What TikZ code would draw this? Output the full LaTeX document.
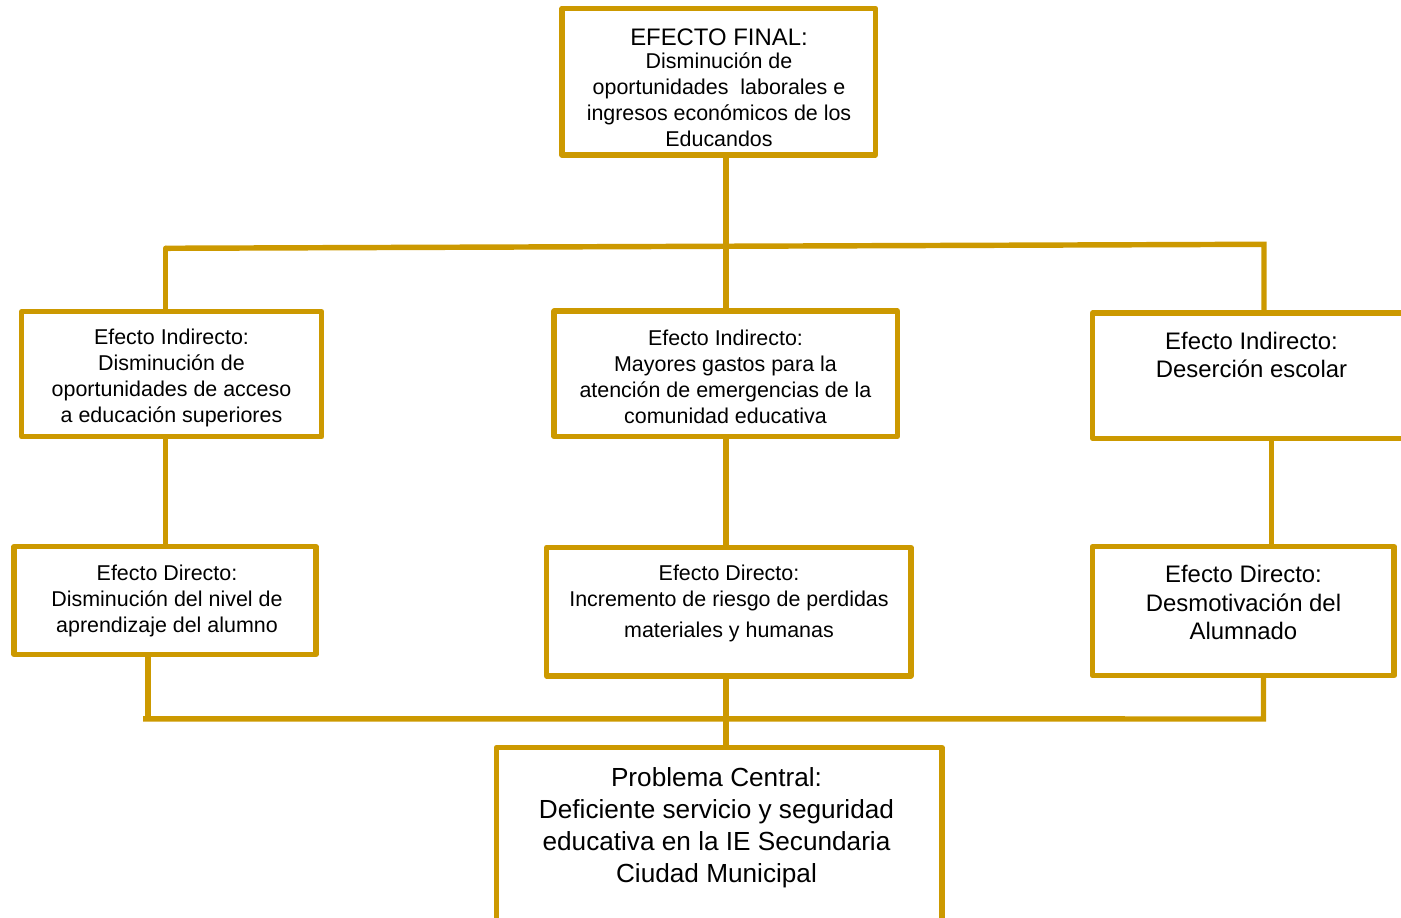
\documentclass[tikz,border=0pt]{standalone}
\usepackage{fontspec}
\setmainfont{Liberation Sans}
\usetikzlibrary{fit}
\definecolor{oro}{RGB}{204,153,0}
\tikzset{
	caja/.style={draw=oro, line width=3.1pt, line join=round, inner sep=0pt},
	linea/.style={draw=oro, line width=3.1pt},
	texto/.style={anchor=north, align=center, inner sep=0pt, font=\fontsize{12.2}{14.8}\selectfont},
	textog/.style={texto, font=\fontsize{13.6}{15.9}\selectfont},
}

\begin{document}
\begin{tikzpicture}[x=0.02cm, y=-0.02cm]
	\useasboundingbox (0,0) rectangle (1401,918);
	
	% cajas
	\node[caja, fit={(562,8.5) (875.5,155)}] (final) {};
	\node[caja, fit={(21.7,311.7) (321.7,436.7)}] (ind1) {};
	\node[caja, fit={(554.2,311.2) (897.5,436.3)}] (ind2) {};
	\node[caja, fit={(1092.7,313) (1450.7,438.3)}] (ind3) {};
	\node[caja, fit={(14.2,546.7) (315.8,654.5)}] (dir1) {};
	\node[caja, fit={(546.7,547.5) (910.8,675.8)}] (dir2) {};
	\node[caja, fit={(1092.5,546.7) (1394.2,675.5)}] (dir3) {};
	\node[caja, fit={(496.5,747.5) (941.8,930)}] (central) {};
	
	% textos
	\node[texto] (tfinal) at (719,28.3) {{\fontsize{13.6}{14.8}\selectfont EFECTO FINAL:}\\[-1.5pt]
		Disminución de\\ oportunidades\ \ laborales e\\ ingresos económicos de los\\ Educandos};
	\node[texto] (tind1) at (171.5,328.3) {Efecto Indirecto:\\ Disminución de\\ oportunidades de acceso\\ a educación superiores};
	\node[texto] (tind2) at (725.5,329.3) {Efecto Indirecto:\\ Mayores gastos para la\\ atención de emergencias de la\\ comunidad educativa};
	\node[textog] (tind3) at (1251.5,331.7) {Efecto Indirecto:\\ Deserción escolar};
	\node[texto] (tdir1) at (167,565) {Efecto Directo:\\ Disminución del nivel de\\ aprendizaje del alumno};
	\node[texto] (tdir2) at (729,565) {Efecto Directo:\\ Incremento de riesgo de perdidas\\[2.7pt] materiales y humanas};
	\node[textog] (tdir3) at (1243.5,565) {Efecto Directo:\\[0.3pt] Desmotivación del\\[0.3pt] Alumnado};
	\node[texto, font=\fontsize{14.9}{18.2}\selectfont] (tcentral) at (716.5,767.3) {Problema Central:\\ Deficiente servicio y seguridad\\ educativa en la IE Secundaria\\ Ciudad Municipal};
	
	% conectores
	\coordinate (barraI) at (165.7,248.3);
	\coordinate (barraD) at (1264,244.3);
	\coordinate (bajaI) at (147.8,718.8);
	\coordinate (baseI) at (143,718.8);
	\coordinate (baseD) at (1263.5,719);
	\coordinate (ejeC) at (726.2,718.8);
	
	\draw[linea] (ind2.north |- final.south) -- (ind2.north);
	\draw[linea, line cap=round] (barraI |- ind1.north) -- (barraI);
	\draw[linea] (barraI) -- (barraD) -- (barraD |- ind3.north);
	
	\draw[linea] (barraI |- ind1.south) -- (barraI |- dir1.north);
	\draw[linea] (ind2.south) -- (ind2.south |- dir2.north);
	\draw[linea] (ind3.south) -- (ind3.south |- dir3.north);
	
	\draw[linea] (bajaI |- dir1.south) -- (bajaI);
	\draw[linea] (baseI) -- (baseD) -- (baseD |- dir3.south);
	\draw[linea] (ejeC |- dir2.south) -- (ejeC |- central.north);
\end{tikzpicture}
\end{document}
